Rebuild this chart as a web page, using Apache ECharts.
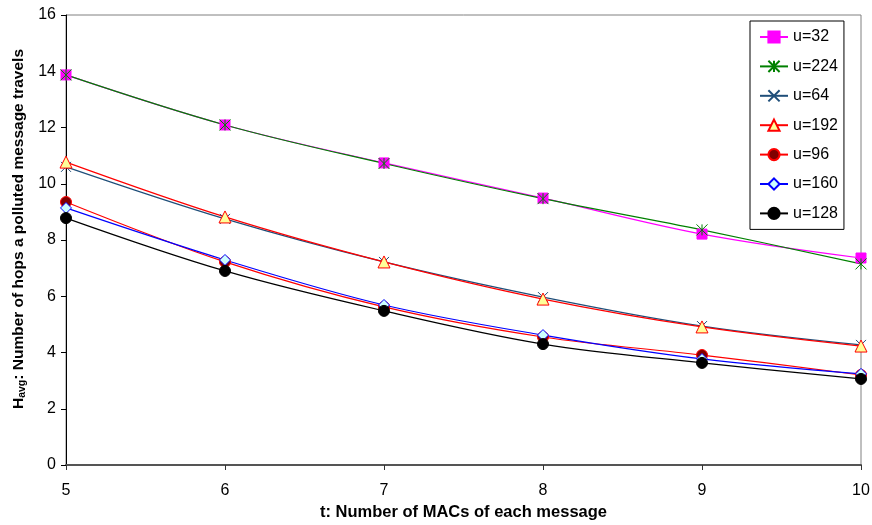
<!DOCTYPE html>
<html>
<head>
<meta charset="utf-8">
<script src="https://cdn.jsdelivr.net/npm/echarts@6/dist/echarts.min.js"></script>
<style>
  html, body { margin: 0; padding: 0; background: #ffffff; }
  #chart { width: 872px; height: 525px; }
</style>
</head>
<body>
<div id="chart"></div>
<script>
// t: number of MACs carried by each message
const tValues = ['5', '6', '7', '8', '9', '10'];

// Average hops travelled by a polluted message, one array per u
const u32  = [13.87, 12.09, 10.74, 9.49, 8.21, 7.36];
const u224 = [13.87, 12.09, 10.72, 9.47, 8.36, 7.15];
const u64  = [10.60, 8.75, 7.22, 5.97, 4.94, 4.27];
const u192 = [10.77, 8.82, 7.22, 5.90, 4.91, 4.23];
const u96  = [9.35, 7.22, 5.62, 4.55, 3.91, 3.20];
const u160 = [9.14, 7.29, 5.69, 4.62, 3.77, 3.24];
const u128 = [8.78, 6.90, 5.48, 4.30, 3.63, 3.06];

const yTicks = { min: 0, max: 16, interval: 2 };

const FONT = "'Liberation Sans', Arial, Helvetica, sans-serif";

const starPath = 'path://M5,0L5,10M0,0L10,10M10,0L0,10';
const crossPath = 'path://M0,0L10,10M10,0L0,10';

function lineSeries(name, data, lineColor, symbol, size, fill, border) {
  return {
    name: name,
    type: 'line',
    data: data,
    smooth: 0.35,
    symbol: symbol,
    symbolSize: size,
    showAllSymbol: true,
    lineStyle: { color: lineColor, width: 1.2 },
    itemStyle: { color: fill, borderColor: border, borderWidth: 1 },
    emphasis: { disabled: true },
    animation: false
  };
}

const series = [
  lineSeries('u=32',  u32,  '#FF00FF', 'rect', 10, '#FF00FF', '#FF00FF'),
  lineSeries('u=224', u224, '#008000', starPath, 11, 'rgba(0,0,0,0)', '#008000'),
  lineSeries('u=64',  u64,  '#1F4E79', crossPath, 10, 'rgba(0,0,0,0)', '#1F4E79'),
  lineSeries('u=192', u192, '#FF0000', 'triangle', 12, '#FFFF99', '#FF0000'),
  lineSeries('u=96',  u96,  '#FF0000', 'circle', 11, '#800000', '#FF0000'),
  lineSeries('u=160', u160, '#0000FF', 'diamond', 11, '#CCFFFF', '#0000FF'),
  lineSeries('u=128', u128, '#000000', 'circle', 11, '#000000', '#000000')
];

const chart = echarts.init(document.getElementById('chart'), null, { renderer: 'canvas' });

chart.setOption({
  backgroundColor: '#ffffff',
  animation: false,
  textStyle: { fontFamily: FONT },
  grid: {
    left: 66, right: 11, top: 15, bottom: 60,
    outerBoundsMode: 'none',
    containLabel: false,
    show: true, borderColor: '#808080', borderWidth: 1, backgroundColor: 'transparent'
  },
  legend: {
    orient: 'vertical',
    left: 750,
    top: 21,
    padding: [8, 6, 8, 9],
    itemWidth: 28,
    itemHeight: 14,
    itemGap: 13.4,
    borderColor: '#000000',
    borderWidth: 1,
    backgroundColor: '#ffffff',
    textStyle: { fontFamily: FONT, fontSize: 16, color: '#000000' },
    data: series.map(s => s.name)
  },
  xAxis: {
    type: 'category',
    data: tValues,
    boundaryGap: false,
    name: 't: Number of MACs of each message',
    nameLocation: 'middle',
    nameGap: 37,
    nameTextStyle: { fontFamily: FONT, fontSize: 16.5, fontWeight: 'bold', color: '#000000' },
    axisLine: { show: true, lineStyle: { color: '#555555', width: 2 } },
    axisTick: { show: true, inside: false, length: 5, alignWithLabel: true, lineStyle: { color: '#333333' } },
    axisLabel: { fontFamily: FONT, fontSize: 16, color: '#000000', margin: 18 },
    splitLine: { show: false }
  },
  yAxis: {
    type: 'value',
    min: yTicks.min,
    max: yTicks.max,
    interval: yTicks.interval,
    name: '{b|H}{s|avg}{b|: Number of hops a polluted message travels}',
    nameLocation: 'middle',
    nameGap: 29,
    nameTextStyle: {
      fontFamily: FONT,
      color: '#000000',
      padding: [0, 0, 0, 22],
      rich: {
        b: { fontFamily: FONT, fontSize: 15.5, fontWeight: 'bold', color: '#000000' },
        s: { fontFamily: FONT, fontSize: 10.5, fontWeight: 'bold', color: '#000000', verticalAlign: 'bottom', padding: [6, 0, 0, 0] }
      }
    },
    axisLine: { show: true, lineStyle: { color: '#000000', width: 1 } },
    axisTick: { show: true, inside: false, length: 5, lineStyle: { color: '#000000' } },
    axisLabel: { fontFamily: FONT, fontSize: 16, color: '#000000', margin: 10 },
    splitLine: { show: false }
  },
  series: series
});
</script>
</body>
</html>
